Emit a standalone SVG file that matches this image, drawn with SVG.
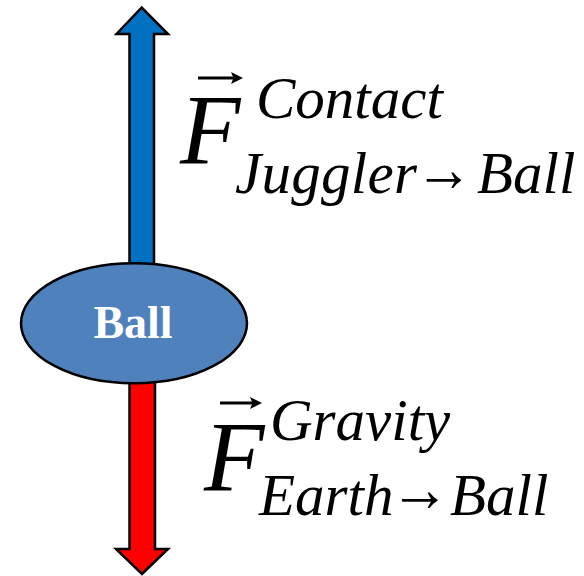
<svg xmlns="http://www.w3.org/2000/svg" width="584" height="576" viewBox="0 0 584 576">
<style>
.shaft{stroke:#000;stroke-width:2.5;stroke-linejoin:miter}
.m{font-family:"Liberation Serif","Times New Roman",serif;font-style:italic;fill:#000}
.big{font-size:99px}
.sub{font-size:59px}
.arr{font-family:"Liberation Serif","Times New Roman",serif;font-size:66px;fill:#000}
.vec{stroke:#000;stroke-width:3;fill:none}
.vh{fill:#000}
</style>
<rect width="584" height="576" fill="#fff"/>
<g id="connectors">
<polygon id="arrow-contact" class="shaft" fill="#0070C0" points="129.5,270 129.5,34 116.5,34 141.7,7.5 168,34 154,34 154,270"/>
<polygon id="arrow-gravity" class="shaft" fill="#FF0000" points="129.5,375 129.5,549 116,549 142,574 168,549 155,549 155,375"/>
</g>
<g id="ball">
<ellipse cx="134" cy="323.3" rx="113" ry="60" fill="#4F81BD" stroke="#000" stroke-width="2.5"/>
<text x="133" y="338" text-anchor="middle" font-family="'Liberation Serif','Times New Roman',serif" font-weight="bold" font-size="46" fill="#fff">Ball</text>
</g>
<g id="label-contact">
<line class="vec" x1="198" y1="78" x2="234" y2="78"/>
<polygon class="vh" points="243,78 231,72 233.5,78 231,84"/>
<text class="m big" x="180" y="163">F</text>
<text class="m sub" x="256" y="118">Contact</text>
<text class="m sub" x="235" y="193" textLength="182" lengthAdjust="spacing">Juggler</text>
<text class="arr" x="415" y="190.5" textLength="58" lengthAdjust="spacingAndGlyphs">→</text>
<text class="m sub" x="477" y="193">Ball</text>
</g>
<g id="label-gravity">
<line class="vec" x1="220" y1="403" x2="253" y2="403"/>
<polygon class="vh" points="262,403 250,397 252.5,403 250,409"/>
<text class="m big" x="204" y="490">F</text>
<text class="m sub" x="270" y="440">Gravity</text>
<text class="m sub" x="259" y="515">Earth</text>
<text class="arr" x="390" y="510.5" textLength="60" lengthAdjust="spacingAndGlyphs">→</text>
<text class="m sub" x="450" y="515">Ball</text>
</g>
</svg>
